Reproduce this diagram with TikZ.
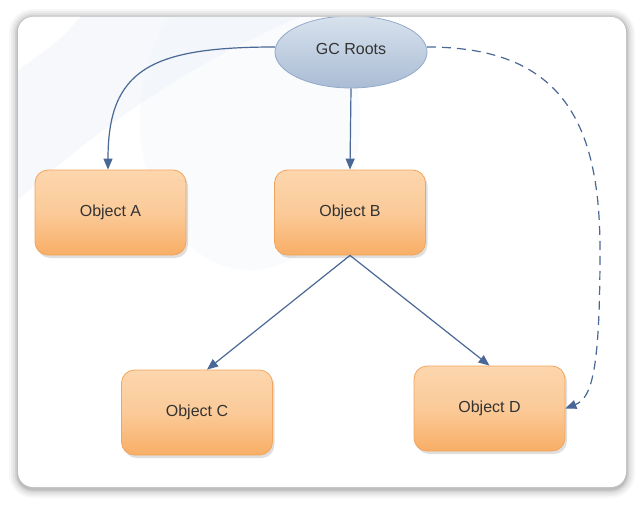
\documentclass[tikz,border=0pt]{standalone}
\usepackage{fontspec}
\setmainfont{Liberation Sans}
\usetikzlibrary{shapes.geometric,arrows.meta,shadows}
\definecolor{linec}{HTML}{4A6896}
\definecolor{boxtop}{HTML}{FCD6AE}
\definecolor{boxbot}{HTML}{F8AE66}
\definecolor{boxborder}{HTML}{F2A55C}
\definecolor{gctop}{HTML}{D8E2EE}
\definecolor{gcbot}{HTML}{AABCD4}
\definecolor{gcborder}{HTML}{93AACB}
\definecolor{tintc}{HTML}{EEF3F8}
\tikzset{
  obj/.style={draw=boxborder, line width=0.8pt, rounded corners=13pt,
    top color=boxtop, bottom color=boxbot, middle color=boxtop!70!boxbot,
    minimum width=151pt, minimum height=85pt, font=\fontsize{16}{18}\selectfont,
    text=black!80, drop shadow={opacity=0.25, shadow xshift=2pt, shadow yshift=-3pt}},
  gc/.style={ellipse, draw=gcborder, line width=0.8pt, top color=gctop, bottom color=gcbot,
    minimum width=152pt, minimum height=72pt, inner sep=0pt,
    font=\fontsize{16}{18}\selectfont, text=black!80},
  arr/.style={draw=linec, line width=1.2pt, -{Triangle[length=11pt,width=9pt]}},
}
\begin{document}
\begin{tikzpicture}[x=1pt,y=-1pt]
\useasboundingbox (0,0) rectangle (644,505);
% panel shadow
\foreach \d/\o in {9/0.03,7/0.04,5/0.05,3/0.07,1.5/0.09}{
  \fill[black, opacity=\o, rounded corners=15pt+\d] (18-\d,17-\d+1) rectangle (626+\d,487+\d+2);
}
\fill[white, rounded corners=15pt] (18,17) rectangle (626,487);
% faint background tint
\begin{scope}
\clip[rounded corners=15pt] (18,17) rectangle (626,487);
\fill[tintc, opacity=0.5] (18,17) -- (300,17) .. controls (200,60) and (120,110) .. (18,200) -- cycle;
\fill[tintc, opacity=0.3] (250,120) ellipse (110 and 150);
\fill[white] (18,17) -- (80,17) .. controls (60,40) .. (18,70) -- cycle;
\node[gc] (GC) at (351,52) {\raisebox{7pt}{GC Roots}};
\end{scope}
\node[obj] (A) at (110.5,212.5) {Object A};
\node[obj] (B) at (350,212.5) {Object B};
\node[obj] (C) at (197,412.5) {Object C};
\node[obj] (D) at (489.5,408.5) {Object D};
\coordinate (gcw) at (275,47);
\coordinate (gce) at (427,47);
\draw[arr] (gcw) .. controls (150,47) and (108,70) .. (A.north -| 108,0);
\draw[arr] (GC.south) -- (B.north);
\draw[arr] (B.south) -- ([xshift=10pt]C.north);
\draw[arr] (B.south) -- (D.north);
\draw[arr, dashed, dash pattern=on 9pt off 6pt]
  (gce) .. controls (560,47) and (600,120) .. (600,250)
        .. controls (600,370) and (592,398) .. (D.east);
\end{tikzpicture}
\end{document}
